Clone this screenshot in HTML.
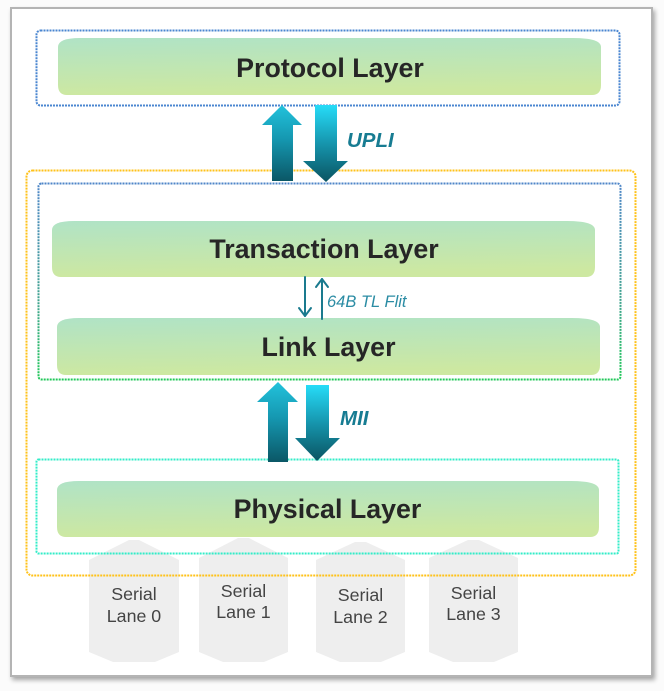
<!DOCTYPE html>
<html>
<head>
<meta charset="utf-8">
<style>
  html, body { margin:0; padding:0; background:#fbfbfb; }
  body { width:664px; height:691px; overflow:hidden; }
  svg { display:block; }
  text { font-family: "Liberation Sans", Arial, sans-serif; }
</style>
</head>
<body>
<svg width="664" height="691" viewBox="0 0 664 691" xmlns="http://www.w3.org/2000/svg">
  <defs>
    <linearGradient id="pill" x1="0" y1="0" x2="0.15" y2="1">
      <stop offset="0" stop-color="#b0e3c6"/>
      <stop offset="1" stop-color="#cde8a1"/>
    </linearGradient>
    <linearGradient id="arrUp" x1="0" y1="0" x2="0" y2="1">
      <stop offset="0" stop-color="#22c2dc"/>
      <stop offset="0.45" stop-color="#1597b0"/>
      <stop offset="1" stop-color="#0b5766"/>
    </linearGradient>
    <linearGradient id="arrDn" x1="0" y1="0" x2="0" y2="1">
      <stop offset="0" stop-color="#26dcf8"/>
      <stop offset="0.5" stop-color="#1695ad"/>
      <stop offset="1" stop-color="#0a5462"/>
    </linearGradient>
    <linearGradient id="tlbox" x1="0" y1="0" x2="0" y2="1">
      <stop offset="0" stop-color="#4f86c8"/>
      <stop offset="0.6" stop-color="#3fa38e"/>
      <stop offset="1" stop-color="#22c85a"/>
    </linearGradient>
    <filter id="sh" x="-5%" y="-5%" width="110%" height="110%">
      <feGaussianBlur in="SourceAlpha" stdDeviation="2.5"/>
      <feOffset dx="2" dy="3" result="b"/>
      <feComponentTransfer><feFuncA type="linear" slope="0.35"/></feComponentTransfer>
      <feMerge><feMergeNode/><feMergeNode in="SourceGraphic"/></feMerge>
    </filter>
  </defs>

  <!-- frame -->
  <rect x="11" y="8" width="641" height="668" fill="#ffffff" stroke="#b4b4b4" stroke-width="2" filter="url(#sh)"/>

  <!-- serial lanes (behind boxes) -->
  <g fill="#eeeeee">
    <polygon points="89,560 129,540 139,540 179,560 179,652 155,662 113,662 89,652"/>
    <polygon points="199,558 238,538 249,538 288,558 288,652 264,662 223,662 199,652"/>
    <polygon points="316,560 355,542 366,542 405,560 405,652 381,662 340,662 316,652"/>
    <polygon points="429,558 468,540 479,540 518,558 518,652 494,662 453,662 429,652"/>
  </g>
  <g fill="#444444" font-size="17.8" text-anchor="middle">
    <text x="134" y="600">Serial</text>
    <text x="134" y="622">Lane 0</text>
    <text x="243.5" y="597">Serial</text>
    <text x="243.5" y="618">Lane 1</text>
    <text x="360.5" y="601">Serial</text>
    <text x="360.5" y="623">Lane 2</text>
    <text x="473.5" y="599">Serial</text>
    <text x="473.5" y="620">Lane 3</text>
  </g>

  <!-- dotted boxes -->
  <rect x="36.5" y="30.5" width="583" height="75" rx="4" fill="none" stroke="#4a86d0" stroke-width="2" stroke-dasharray="2 1"/>
  <rect x="26.5" y="170.5" width="609" height="405" rx="6" fill="none" stroke="#ffc21a" stroke-width="2" stroke-dasharray="2 1"/>
  <rect x="38.5" y="183.5" width="582" height="196" rx="3" fill="none" stroke="url(#tlbox)" stroke-width="2" stroke-dasharray="2 1"/>
  <rect x="36.5" y="459.5" width="582" height="94" rx="2" fill="none" stroke="#33ecc8" stroke-width="2" stroke-dasharray="2 1"/>

  <!-- pills -->
  <path d="M80,38 L573,38 Q601,38 601,47 L601,85 Q601,95 592,95 L67,95 Q58,95 58,85 L58,47 Q58,38 80,38 Z" fill="url(#pill)"/>
  <path d="M74,221 L567,221 Q595,221 595,230 L595,267 Q595,277 586,277 L61,277 Q52,277 52,267 L52,230 Q52,221 74,221 Z" fill="url(#pill)"/>
  <path d="M79,318 L572,318 Q600,318 600,327 L600,365 Q600,375 591,375 L66,375 Q57,375 57,365 L57,327 Q57,318 79,318 Z" fill="url(#pill)"/>
  <path d="M79,481 L571,481 Q599,481 599,490 L599,527 Q599,537 590,537 L66,537 Q57,537 57,527 L57,490 Q57,481 79,481 Z" fill="url(#pill)"/>

  <g fill="#262626" font-size="26.8" font-weight="bold" text-anchor="middle">
    <text x="330" y="77">Protocol Layer</text>
    <text x="324" y="258">Transaction Layer</text>
    <text x="328.5" y="356">Link Layer</text>
    <text x="327.5" y="518">Physical Layer</text>
  </g>

  <!-- UPLI arrows -->
  <polygon points="282,105 302,125 293,125 293,181 272,181 272,125 262,125" fill="url(#arrUp)"/>
  <polygon points="315,105 337,105 337,161 348,161 326,182 303,161 315,161" fill="url(#arrDn)"/>
  <text x="347" y="147" font-size="20.5" font-weight="bold" font-style="italic" fill="#177c92">UPLI</text>

  <!-- MII arrows -->
  <polygon points="278,382 298,402 288,402 288,462 268,462 268,402 257,402" fill="url(#arrUp)"/>
  <polygon points="306,385 329,385 329,438 340,438 317,461 295,438 306,438" fill="url(#arrDn)"/>
  <text x="340" y="425" font-size="20.5" font-weight="bold" font-style="italic" fill="#177c92">MII</text>

  <!-- small TL flit arrows -->
  <g stroke="#1a7a8e" stroke-width="2" fill="none" stroke-linecap="round" stroke-linejoin="round">
    <line x1="305" y1="277" x2="305" y2="316"/>
    <polyline points="299,308 305,316 311,308"/>
    <line x1="322" y1="279" x2="322" y2="319"/>
    <polyline points="316,287 322,279 328,287"/>
  </g>
  <text x="327" y="307" font-size="16.5" font-style="italic" fill="#2b8ca4">64B TL Flit</text>
</svg>
</body>
</html>
